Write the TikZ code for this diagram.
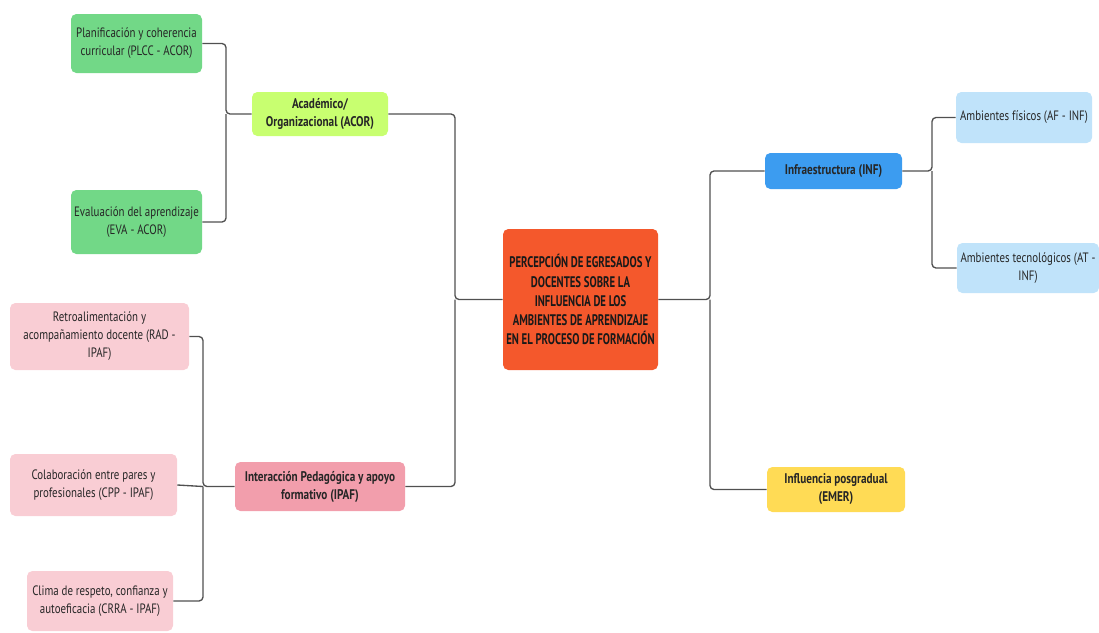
\documentclass[tikz,border=0pt]{standalone}
\usepackage{fontspec}
\setmainfont{PT Sans}[FakeStretch=0.8]
\newfontfamily\rootfont{PT Sans}[FakeStretch=0.7]
\usetikzlibrary{positioning}
\definecolor{Leaf}{HTML}{72D887}
\definecolor{Lime}{HTML}{C8FF70}
\definecolor{Root}{HTML}{F4582C}
\definecolor{Rose}{HTML}{F29EAC}
\definecolor{Blush}{HTML}{F9CDD4}
\definecolor{Sky}{HTML}{3C9CF0}
\definecolor{Ice}{HTML}{C0E3FA}
\definecolor{Sun}{HTML}{FFDB55}
\definecolor{Wire}{HTML}{505050}
\tikzset{
  box/.style={rounded corners=4pt, inner sep=0pt, align=center,
    font=\fontsize{10.2}{13.5}\selectfont, text=black!85},
  sz/.style 2 args={minimum width=#1*0.75pt, minimum height=#2*0.75pt},
  head/.style={box, font=\fontsize{10.5}{13.5}\selectfont\bfseries},
  link/.style={Wire, line width=1pt, rounded corners=3pt}
}
\begin{document}
\begin{tikzpicture}[x=0.75pt,y=-0.75pt]
  \useasboundingbox (0,0) rectangle (1099,632);
  % centre
  \node[box, sz={155}{141}, fill=Root, text=black!90,
    font=\rootfont\fontsize{11.5}{14.3}\selectfont\bfseries] (root) at (580.5,299.5)
    {PERCEPCIÓN DE EGRESADOS Y\\DOCENTES SOBRE LA\\INFLUENCIA DE LOS\\AMBIENTES DE APRENDIZAJE\\EN EL PROCESO DE FORMACIÓN};
  % left branches
  \node[head, sz={136}{44}, fill=Lime] (acor) at (320,114) {Académico/\\Organizacional (ACOR)};
  \node[head, sz={170}{49}, fill=Rose] (ipaf) at (320,486.5) {Interacción Pedagógica y apoyo\\formativo (IPAF)};
  \node[box, sz={131}{59}, fill=Leaf] (plcc) at (136.5,43.5) {Planificación y coherencia\\curricular (PLCC - ACOR)};
  \node[box, sz={131}{64}, fill=Leaf] (eva) at (136.5,222) {Evaluación del aprendizaje\\(EVA - ACOR)};
  \node[box, sz={179}{67}, fill=Blush] (rad) at (99.5,336.5) {Retroalimentación y\\acompañamiento docente (RAD -\\IPAF)};
  \node[box, sz={167}{62}, fill=Blush] (cpp) at (93.5,485) {Colaboración entre pares y\\profesionales (CPP - IPAF)};
  \node[box, sz={146}{60}, fill=Blush] (crra) at (100,601) {Clima de respeto, confianza y\\autoeficacia (CRRA - IPAF)};
  % right branches
  \node[head, sz={137}{36}, fill=Sky] (inf) at (833.5,171) {Infraestructura (INF)};
  \node[head, sz={138}{45}, fill=Sun] (emer) at (836,489.5) {Influencia posgradual\\(EMER)};
  \node[box, sz={136}{51}, fill=Ice] (af) at (1024,117.5) {Ambientes físicos (AF - INF)};
  \node[box, sz={142}{50}, fill=Ice] (at) at (1028,268) {Ambientes tecnológicos (AT -\\INF)};
  % junctions
  \coordinate (jL) at (455,299.5);
  \coordinate (jR) at (710,299.5);
  \coordinate (jA) at (226,114);
  \coordinate (jP) at (203,486.5);
  \coordinate (jI) at (932,171);
  % connectors
  \draw[link] (acor.east) -| (jL) -- (root.west);
  \draw[link] (ipaf.east) -| (jL);
  \draw[link] (root.east) -- (jR) |- (inf.west);
  \draw[link] (jR) |- (emer.west);
  \draw[link] (plcc.east) -| (jA) -- (acor.west);
  \draw[link] (eva.east) -| (jA);
  \draw[link] (rad.east) -| (jP) -- (ipaf.west);
  \draw[link] (cpp.east) -- (jP);
  \draw[link] (crra.east) -| (jP);
  \draw[link] (inf.east) -- (jI) |- (af.west);
  \draw[link] (jI) |- (at.west);
\end{tikzpicture}
\end{document}
